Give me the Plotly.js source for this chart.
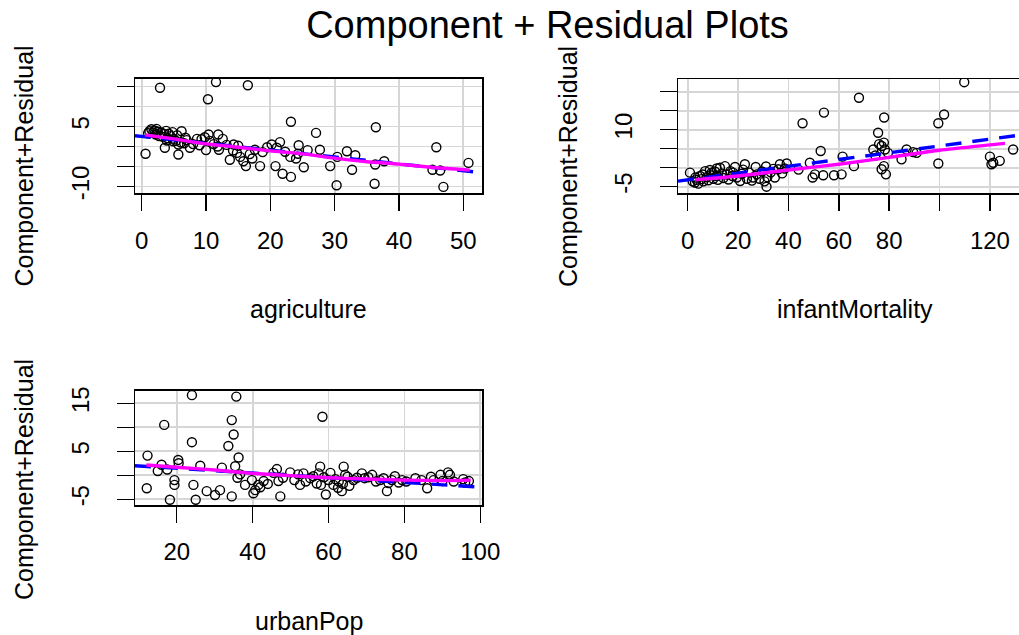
<!DOCTYPE html>
<html>
<head>
<meta charset="utf-8">
<script src="https://cdn.plot.ly/plotly-3.0.1.min.js"></script>
<style>
html, body { margin: 0; padding: 0; overflow: hidden; background: #ffffff; }
#chart { width: 1040px; height: 635px; }
</style>
</head>
<body>
<div id="chart"></div>
<script>
// ---------- data ----------
const agricultureX = [2.85,11.55,16.5,10.3,23.2,36.4,27.1,6.2,0.6,45.8,50.8,30.3,36.2,46.9,46.4,45.2,37.7,36.3,32.7,33.2,31.9,30.4,29.3,27.7,25.2,24.4,23.2,23.1,21.9,20.8,21.5,20.2,18.4,17.6,16.2,15.8,15.3,14.8,13.7,14.3,11.9,11.8,10.4,10.0,9.3,8.6,7.5,5.7,5.7,4.9,3.6,3.1,
  1.2,1.5,1.8,2.0,2.2,2.5,2.7,3.0,3.3,3.5,3.8,4.0,4.2,4.5,4.8,5.0,5.3,5.5,6.1,6.6,7.0,8.0,9.0,9.8,10.6,11.2,12.6,13.2,14.2,15.0,16.8,18.8,21.0,22.3,24.3,25.8,2.3,1.0,3.9,6.8,12.0,17.2,19.5,24.0];
const agricultureY = [14.7,16.1,15.3,11.8,6.2,4.8,3.4,3.8,-1.8,-0.2,-4.1,-9.7,-9.3,-10.1,-6.0,-5.8,-3.7,-4.5,-5.8,-2.2,-1.2,-2.6,-4.9,-0.8,-5.2,0.3,-7.6,-2.6,-6.8,-4.9,1.1,0.5,-4.9,-0.8,-4.9,-3.7,-2.6,-1.6,-3.3,0.5,3.0,0.0,3.0,-0.9,1.8,1.9,-0.3,-2.0,0.5,1.3,-0.3,3.4,
  3.8,4.3,3.5,4.0,3.0,3.7,2.6,3.5,2.4,3.1,3.9,2.1,3.2,2.6,3.6,1.9,1.4,2.8,1.0,0.8,1.6,0.6,0.3,2.3,1.4,0.6,1.9,0.4,-1.0,0.2,-1.9,-1.4,-0.3,-1.3,-1.8,-0.9,4.4,3.3,1.5,2.2,-0.8,-3.0,-0.2,-3.0];
const agricultureFitX = [-1.04, 52.9];
const agricultureFitY = [2.7, -6.55];
const agricultureSmoothX = [0.5,5,10,15,20,25,30,35,40,45,51];
const agricultureSmoothY = [2.9,1.9,0.65,-0.2,-1.1,-1.85,-2.9,-3.8,-4.4,-5.2,-5.9];

const infantX = [109.8,68,54.1,45.6,78,75.6,101.8,99.5,77.9,77,78.3,73.7,52.8,61.5,86.9,84.9,90.9,99.5,120,121.3,123.9,120.6,129.2,77.9,77,78.7,66,61.1,58.1,53.8,49.6,50.5,48.5,36.6,39.3,36,34.6,31.3,31.6,31.1,27.4,26,22.7,20.8,18.8,17,12.8,11.5,9.5,6.9,4.9,0.9,2.9,
  3.5,4.2,5.5,6.2,7.5,8.2,9.0,10.2,10.8,12.0,13.5,14.2,15.5,16.2,17.8,19.5,21.5,23.5,24.5,25.5,28.5,29.5,30.5,33.0,34.0,37.5,2.0,3.0,6.0,8.8,11.5,14.8,18.0,22.0,27.0,38.5,44,79.5,76.0,89.5,74.5];
const infantY = [22.5,18.4,14.5,11.7,13.2,9.2,14.0,11.7,6.6,5.7,4.8,4.8,4.4,2.9,4.8,2.2,3.9,1.1,2.9,1.3,1.8,0.9,4.8,0.4,-0.4,-1.75,0.4,-1.75,-2.0,-2.0,-2.6,-1.75,1.3,0.9,1.1,-0.4,-2.6,-5.0,-2.5,0.3,-1.75,-2.6,0.9,-3.5,0.2,-0.9,0.0,-2.2,-1.3,-0.9,-2.2,-1.3,-3.9,
  -3.2,-4.2,-3.0,-3.6,-2.5,-3.3,-2.0,-2.9,-1.0,-3.2,-1.5,-2.7,-1.8,-3.1,-2.2,-2.6,-1.6,-2.9,-1.3,-3.4,-2.9,-1.0,-3.6,-1.2,-0.3,-1.5,-3.6,-2.6,-1.8,-0.6,-0.2,0.4,-1.3,-0.5,0.2,-0.2,-0.5,3.9,6.2,4.1,3.2];
const infantFitX = [-3.85, 136.7];
const infantFitY = [-3.55, 9.0];
const infantSmoothX = [2.9,20,40,60,80,100,120,126];
const infantSmoothY = [-3.2,-2.2,-0.6,0.9,2.7,4.6,6.0,6.4];

const urbanX = [24,35.7,58.4,16.7,34.5,35,33.6,24,12.3,36.3,20.4,16,15,26.2,31.9,35.4,36.7,12.1,19.4,19.4,18.2,24.4,25,27.9,30.1,31.4,34.5,39.8,40.7,40.2,41.5,42.9,46.4,46.8,47.3,49.9,52.5,53.4,55.2,56.9,57.8,57.4,59.3,60,61.3,62.7,63.5,64,64.4,66.6,68.8,71.5,73.6,75.4,76.7,79.4,82.9,86,87.7,89.5,91.5,93,97,
  17.5,20.5,36,38,42,44,45.5,48,51,52,54,56,58,58.8,60.5,61.8,62.5,63.8,65,65.5,67.5,69.5,70.5,72.5,74.5,75.8,77.5,78.5,80.5,84.5,87,90,92,95.5,96];
const urbanY = [16.7,16.4,12.2,10.5,11.5,8.5,6.1,6.9,4.1,3.7,3.2,2.2,0.9,2.0,1.6,1.9,0.2,-2.7,-1.0,-2.0,-5.1,-2.0,-5.1,-3.3,-4.1,-3.1,-4.4,-1.0,-3.1,-3.75,-2.0,-1.2,1.3,-1.2,-4.4,0.6,-2.0,0.4,-0.6,-1.7,1.8,0.4,-4.0,-1.0,-2.0,-1.3,-3.3,1.8,0.1,-1.0,0.4,0.1,-1.0,-3.3,-1.0,-1.0,-0.6,-2.7,-1.0,0.1,0.6,-1.3,-1.2,
  1.2,2.5,-0.5,-2.0,-2.5,-1.8,0.5,-0.5,-1.0,0.2,-1.3,-0.2,-2.0,-0.4,0.5,-0.8,-2.6,-1.8,-0.3,-2.2,-0.5,-0.6,-0.4,-1.3,-0.6,-1.6,-0.2,-1.5,-1.3,-1.0,-0.3,-1.2,0.1,-0.8,-1.5];
const urbanFitX = [9.0, 100.45];
const urbanFitY = [2.0, -2.49];
const urbanSmoothX = [12,20,30,40,50,60,70,80,90,97.5];
const urbanSmoothY = [2.15,1.67,1.1,0.4,-0.07,-0.5,-0.76,-1.0,-1.1,-1.0];

const agricultureTicks = [0,10,20,30,40,50];
const agricultureTickText = ['0','10','20','30','40','50'];
const infantTicks = [0,20,40,60,80,100,120];
const infantTickText = ['0','20','40','60','80','','120'];
const urbanTicks = [20,40,60,80,100];
const urbanTickText = ['20','40','60','80','100'];
const yTicks1 = [-10,-5,0,5,10,15];
const yTickText1 = ['-10','','','5','',''];
const yTicks2 = [-5,0,5,10,15,20];
const yTickText2 = ['-5','','','10','',''];
const yTicks3 = [-5,0,5,10,15];
const yTickText3 = ['-5','','5','','15'];

const mainTitle = 'Component + Residual Plots';
const yLabel = 'Component+Residual';
const xLabels = ['agriculture','infantMortality','urbanPop'];

// ---------- layout helpers ----------
const W = 1040, H = 635;
const FONT = 'Liberation Sans, Arial, Helvetica, sans-serif';
function px2x(p){ return p / W; }
function py2y(p){ return 1 - p / H; }

function pointsTrace(x, y, xa, ya){
  return {x:x, y:y, xaxis:xa, yaxis:ya, type:'scatter', mode:'markers',
    marker:{symbol:'circle-open', size:9, color:'#000000', line:{width:1.4, color:'#000000'}},
    hoverinfo:'x+y', cliponaxis:true};
}
function fitTrace(x, y, xa, ya){
  return {x:x, y:y, xaxis:xa, yaxis:ya, type:'scatter', mode:'lines',
    line:{color:'#0000ff', width:3.4, dash:'16px,11px'}, hoverinfo:'skip'};
}
function smoothTrace(x, y, xa, ya){
  return {x:x, y:y, xaxis:xa, yaxis:ya, type:'scatter', mode:'lines',
    line:{color:'#ff00ff', width:3.4, shape:'spline', smoothing:0.6}, hoverinfo:'skip'};
}

const traces = [
  pointsTrace(agricultureX, agricultureY, 'x', 'y'),
  fitTrace(agricultureFitX, agricultureFitY, 'x', 'y'),
  smoothTrace(agricultureSmoothX, agricultureSmoothY, 'x', 'y'),
  pointsTrace(infantX, infantY, 'x2', 'y2'),
  fitTrace(infantFitX, infantFitY, 'x2', 'y2'),
  smoothTrace(infantSmoothX, infantSmoothY, 'x2', 'y2'),
  pointsTrace(urbanX, urbanY, 'x3', 'y3'),
  fitTrace(urbanFitX, urbanFitY, 'x3', 'y3'),
  smoothTrace(urbanSmoothX, urbanSmoothY, 'x3', 'y3')
];

function xAxis(domain, range, tv, tt, anchor){
  return {domain:domain, range:range, anchor:anchor, tickvals:tv, ticktext:tt,
    showline:true, linecolor:'#000000', linewidth:1.5, mirror:true,
    ticks:'outside', ticklen:16, tickwidth:1.5, tickcolor:'#000000',
    showgrid:true, gridcolor:'#d6d6d6', gridwidth:1.8, zeroline:false,
    tickfont:{family:FONT, size:24, color:'#000000'}, ticklabelstandoff:9,
    fixedrange:true};
}
function yAxis(domain, range, tv, tt, anchor){
  return {domain:domain, range:range, anchor:anchor, tickvals:tv, ticktext:tt,
    showline:true, linecolor:'#000000', linewidth:1.5, mirror:true,
    ticks:'outside', ticklen:17, tickwidth:1.5, tickcolor:'#000000',
    showgrid:true, gridcolor:'#d6d6d6', gridwidth:1.8, zeroline:false,
    tickangle:-90, tickfont:{family:FONT, size:24, color:'#000000'}, ticklabelstandoff:18,
    fixedrange:true};
}

const leftDom = [px2x(135), px2x(482)];
const rightDom = [px2x(678), px2x(1032)];
const topDom = [py2y(193.3), py2y(78.5)];
const topDom2 = [py2y(193.3), py2y(79)];
const botDom = [py2y(505), py2y(390.7)];

const annFont = {family:FONT, size:25, color:'#000000'};
const layout = {
  width:W, height:H,
  margin:{l:0, r:0, t:0, b:0},
  paper_bgcolor:'#ffffff', plot_bgcolor:'#ffffff',
  showlegend:false,
  title:{text:mainTitle, font:{family:FONT, size:38, color:'#000000'},
    x:px2x(547.5), xref:'paper', xanchor:'center', y:py2y(25), yref:'paper', yanchor:'middle'},
  xaxis: xAxis(leftDom, [-1.04, 52.9], agricultureTicks, agricultureTickText, 'y'),
  yaxis: yAxis(topDom, [-11.7, 17.0], yTicks1, yTickText1, 'x'),
  xaxis2: xAxis(rightDom, [-3.85, 136.7], infantTicks, infantTickText, 'y2'),
  yaxis2: yAxis(topDom2, [-6.74, 23.34], yTicks2, yTickText2, 'x2'),
  xaxis3: xAxis(leftDom, [9.0, 100.45], urbanTicks, urbanTickText, 'y3'),
  yaxis3: yAxis(botDom, [-6.19, 17.63], yTicks3, yTickText3, 'x3'),
  annotations:[
    {text:xLabels[0], xref:'paper', yref:'paper', x:px2x(308.5), y:py2y(309), xanchor:'center', yanchor:'middle', showarrow:false, font:annFont},
    {text:xLabels[1], xref:'paper', yref:'paper', x:px2x(855), y:py2y(309), xanchor:'center', yanchor:'middle', showarrow:false, font:annFont},
    {text:xLabels[2], xref:'paper', yref:'paper', x:px2x(308.5), y:py2y(621), xanchor:'center', yanchor:'middle', showarrow:false, font:annFont},
    {text:yLabel, xref:'paper', yref:'paper', x:px2x(24), y:py2y(166.5), xanchor:'center', yanchor:'middle', textangle:-90, showarrow:false, font:annFont},
    {text:yLabel, xref:'paper', yref:'paper', x:px2x(568), y:py2y(167), xanchor:'center', yanchor:'middle', textangle:-90, showarrow:false, font:annFont},
    {text:yLabel, xref:'paper', yref:'paper', x:px2x(24), y:py2y(480), xanchor:'center', yanchor:'middle', textangle:-90, showarrow:false, font:annFont}
  ]
};

Plotly.newPlot('chart', traces, layout, {displayModeBar:false, staticPlot:true});
</script>
</body>
</html>
